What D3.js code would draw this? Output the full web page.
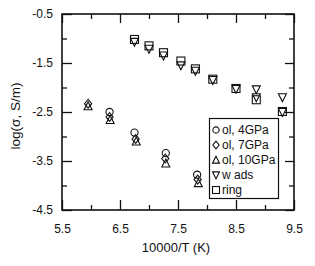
<!DOCTYPE html>
<html><head><meta charset="utf-8">
<script src="https://cdn.jsdelivr.net/npm/d3@7"></script>
<style>body{margin:0;background:#fff}svg{display:block}text{font-family:"Liberation Sans",Arial,sans-serif;fill:#111}</style>
</head><body>
<svg id="c" width="315" height="266"></svg>
<script>
const xTicks = [5.5, 6.5, 7.5, 8.5, 9.5];
const yTicks = [-0.5, -1.5, -2.5, -3.5, -4.5];
const seriesNames = ["ol, 4GPa", "ol, 7GPa", "ol, 10GPa", "w ads", "ring"];
const ol4X = [6.32, 6.75, 7.29, 7.83];
const ol4Y = [-2.50, -2.92, -3.34, -3.78];
const ol7X = [5.95, 6.32, 6.77, 7.28, 7.84];
const ol7Y = [-2.33, -2.60, -3.05, -3.45, -3.88];
const ol10X = [5.95, 6.33, 6.78, 7.29, 7.85];
const ol10Y = [-2.38, -2.66, -3.10, -3.55, -3.95];
const wadsX = [6.75, 7.0, 7.25, 7.55, 7.8, 8.1, 8.5, 8.85, 8.85, 9.3, 9.3];
const wadsY = [-1.07, -1.21, -1.35, -1.55, -1.66, -1.85, -2.03, -2.04, -2.20, -2.20, -2.50];
const ringX = [6.75, 7.0, 7.25, 7.55, 7.8, 8.1, 8.5, 8.85, 9.3];
const ringY = [-1.02, -1.15, -1.29, -1.46, -1.62, -1.83, -2.02, -2.25, -2.49];

const svg = d3.select("#c");
const L = 62, R = 294, T = 14, B = 210;
const x = d3.scaleLinear().domain([5.5, 9.5]).range([L, R]);
const y = d3.scaleLinear().domain([-4.5, -0.5]).range([B, T]);
const fmt = d => d.toFixed(1);

const minorX = d3.range(6, 9.5, 1);
const minorY = d3.range(-4, -0.5, 1);

const style = (s) => { s.select(".domain").remove(); s.selectAll("line").attr("stroke","#111").attr("stroke-width",1.3); s.selectAll("text").attr("font-size", 12).attr("fill","#111"); };
svg.append("g").attr("transform", `translate(0,${B})`)
  .call(d3.axisBottom(x).tickValues(xTicks).tickFormat(fmt).tickSizeInner(-10).tickSizeOuter(0).tickPadding(14)).call(style);
svg.append("g").attr("transform", `translate(0,${B})`)
  .call(d3.axisBottom(x).tickValues(minorX).tickFormat("").tickSizeInner(-5).tickSizeOuter(0)).call(style);
svg.append("g").attr("transform", `translate(0,${T})`)
  .call(d3.axisTop(x).tickValues(xTicks).tickFormat("").tickSizeInner(-9).tickSizeOuter(0)).call(style);
svg.append("g").attr("transform", `translate(0,${T})`)
  .call(d3.axisTop(x).tickValues(minorX).tickFormat("").tickSizeInner(-5).tickSizeOuter(0)).call(style);
svg.append("g").attr("transform", `translate(${L},0)`)
  .call(d3.axisLeft(y).tickValues(yTicks).tickFormat(fmt).tickSizeInner(-10).tickSizeOuter(0).tickPadding(9)).call(style);
svg.append("g").attr("transform", `translate(${L},0)`)
  .call(d3.axisLeft(y).tickValues(minorY).tickFormat("").tickSizeInner(-5).tickSizeOuter(0)).call(style);
svg.append("g").attr("transform", `translate(${R},0)`)
  .call(d3.axisRight(y).tickValues(yTicks).tickFormat("").tickSizeInner(-9).tickSizeOuter(0)).call(style);
svg.append("g").attr("transform", `translate(${R},0)`)
  .call(d3.axisRight(y).tickValues(minorY).tickFormat("").tickSizeInner(-5).tickSizeOuter(0)).call(style);

svg.append("rect").attr("x", L).attr("y", T).attr("width", R - L).attr("height", B - T)
  .attr("fill", "none").attr("stroke", "#111").attr("stroke-width", 1.6);

function sym(sel, kind, s) {
  if (kind === "circle") return sel.append("circle").attr("r", s * 0.45);
  if (kind === "square") return sel.append("rect").attr("x", -s/2).attr("y", -s/2).attr("width", s).attr("height", s);
  let p;
  if (kind === "diamond") p = [[0,-s*0.55],[s*0.45,0],[0,s*0.55],[-s*0.45,0]];
  if (kind === "up") p = [[0,-s*0.55],[s*0.5,s*0.45],[-s*0.5,s*0.45]];
  if (kind === "down") p = [[0,s*0.55],[s*0.5,-s*0.45],[-s*0.5,-s*0.45]];
  return sel.append("path").attr("d", "M" + p.map(q => q.join(",")).join("L") + "Z");
}
const series = [
  {kind: "square", xs: ringX, ys: ringY, s: 8},
  {kind: "down", xs: wadsX, ys: wadsY, s: 8},
  {kind: "circle", xs: ol4X, ys: ol4Y, s: 8},
  {kind: "diamond", xs: ol7X, ys: ol7Y, s: 8},
  {kind: "up", xs: ol10X, ys: ol10Y, s: 8}
];
series.forEach(se => {
  se.xs.forEach((xv, i) => {
    const gg = svg.append("g").attr("transform", `translate(${x(xv)},${y(se.ys[i])})`);
    sym(gg, se.kind, se.s).attr("fill", "none").attr("stroke", "#111").attr("stroke-width", 1.1);
  });
});

svg.append("rect").attr("x", 209.5).attr("y", 118.5).attr("width", 69).attr("height", 80)
  .attr("fill", "#fff").attr("stroke", "#111").attr("stroke-width", 1.2);
const kinds = ["circle", "diamond", "up", "down", "square"];
seriesNames.forEach((nm, i) => {
  const yy = 130 + i * 15;
  const gg = svg.append("g").attr("transform", `translate(216,${yy})`);
  sym(gg, kinds[i], 7).attr("fill", "none").attr("stroke", "#111").attr("stroke-width", 1.1);
  svg.append("text").attr("x", 222).attr("y", yy).attr("dy", "0.36em").attr("font-size", 12).text(nm);
});

svg.append("text").attr("x", 176).attr("y", 252).attr("text-anchor", "middle").attr("font-size", 13).text("10000/T (K)");
svg.append("text").attr("transform", "translate(20,116) rotate(-90)").attr("text-anchor", "middle").attr("font-size", 13.5).text("log(σ, S/m)");
</script>
</body></html>
